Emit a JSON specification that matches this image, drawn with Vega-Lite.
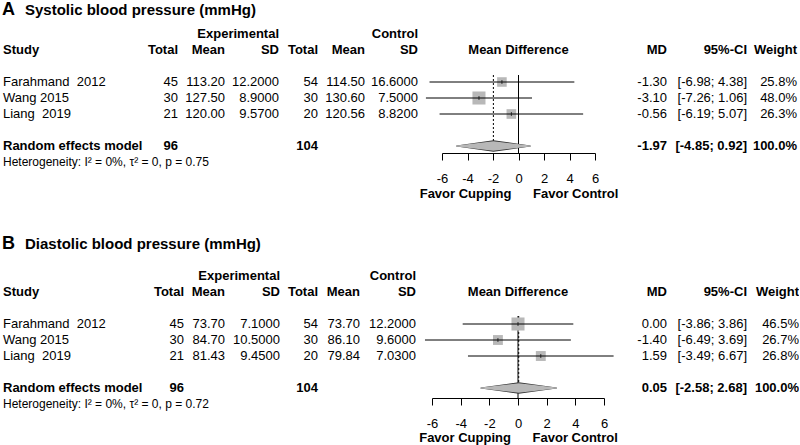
{
"$schema": "https://vega.github.io/schema/vega-lite/v6.json",
"padding": 0,
"spacing": 0,
"config": {"view": {"stroke": null}, "text": {"font": "Liberation Sans", "fontSize": 13, "color": "black"}, "concat": {"spacing": 0}},
"datasets": {
"A": [
{"line": "s1", "study": "Farahmand \u00a02012", "et": 45, "em": 113.2, "esd": 12.2, "ct": 54, "cm": 114.5, "csd": 16.6, "md": -1.30, "lo": -6.98, "hi": 4.38, "w": 25.8},
{"line": "s2", "study": "Wang 2015", "et": 30, "em": 127.5, "esd": 8.9, "ct": 30, "cm": 130.6, "csd": 7.5, "md": -3.10, "lo": -7.26, "hi": 1.06, "w": 48.0},
{"line": "s3", "study": "Liang \u00a02019", "et": 21, "em": 120.0, "esd": 9.57, "ct": 20, "cm": 120.56, "csd": 8.82, "md": -0.56, "lo": -6.19, "hi": 5.07, "w": 26.3},
{"line": "random", "study": "Random effects model", "et": 96, "ct": 104, "md": -1.97, "lo": -4.85, "hi": 0.92, "w": 100.0}
],
"B": [
{"line": "s1", "study": "Farahmand \u00a02012", "et": 45, "em": 73.7, "esd": 7.1, "ct": 54, "cm": 73.7, "csd": 12.2, "md": 0.00, "lo": -3.86, "hi": 3.86, "w": 46.5},
{"line": "s2", "study": "Wang 2015", "et": 30, "em": 84.7, "esd": 10.5, "ct": 30, "cm": 86.1, "csd": 9.6, "md": -1.40, "lo": -6.49, "hi": 3.69, "w": 26.7},
{"line": "s3", "study": "Liang \u00a02019", "et": 21, "em": 81.43, "esd": 9.45, "ct": 20, "cm": 79.84, "csd": 7.03, "md": 1.59, "lo": -3.49, "hi": 6.67, "w": 26.8},
{"line": "random", "study": "Random effects model", "et": 96, "ct": 104, "md": 0.05, "lo": -2.58, "hi": 2.68, "w": 100.0}
]
},
"vconcat": [
{"spacing": 0, "bounds": "flush", "hconcat": [
 {"width": 3, "height": 222, "data": {"name": "A"},
  "encoding": {"x": {"value": "width"}, "y": {"field": "line", "type": "nominal", "axis": null, "scale": {"type": "point", "domain": ["title","t","h1","h2","g1","s1","s2","s3","g2","random","het"], "range": [2,162], "padding": 0}}},
  "layer": [
   {"data": {"values": [{}]}, "mark": {"type": "text", "align": "left", "fontWeight": "bold", "fontSize": 18, "dy": 8, "dx": -1}, "encoding": {"y": {"datum": "title", "type": "nominal", "axis": null, "scale": {"type": "point", "domain": ["title","t","h1","h2","g1","s1","s2","s3","g2","random","het"], "range": [2,162], "padding": 0}}, "text": {"value": "A"}}},
   {"data": {"values": [{}]}, "mark": {"type": "text", "align": "left", "fontWeight": "bold", "fontSize": 15, "dy": 8, "dx": 22}, "encoding": {"y": {"datum": "title", "type": "nominal", "axis": null, "scale": {"type": "point", "domain": ["title","t","h1","h2","g1","s1","s2","s3","g2","random","het"], "range": [2,162], "padding": 0}}, "text": {"value": "Systolic blood pressure (mmHg)"}}},
   {"data": {"values": [{}]}, "mark": {"type": "text", "align": "left", "fontWeight": "bold"}, "encoding": {"y": {"datum": "h2", "type": "nominal", "axis": null, "scale": {"type": "point", "domain": ["title","t","h1","h2","g1","s1","s2","s3","g2","random","het"], "range": [2,162], "padding": 0}}, "text": {"value": "Study"}}},
   {"transform": [{"filter": "datum.line != 'random'"}], "mark": {"type": "text", "align": "left"}, "encoding": {"text": {"field": "study", "type": "nominal"}}},
   {"transform": [{"filter": "datum.line == 'random'"}], "mark": {"type": "text", "align": "left", "fontWeight": "bold"}, "encoding": {"text": {"field": "study", "type": "nominal"}}},
   {"data": {"values": [{}]}, "mark": {"type": "text", "align": "left", "fontSize": 12}, "encoding": {"y": {"datum": "het", "type": "nominal", "axis": null, "scale": {"type": "point", "domain": ["title","t","h1","h2","g1","s1","s2","s3","g2","random","het"], "range": [2,162], "padding": 0}}, "text": {"value": "Heterogeneity: I² = 0%, τ² = 0, p = 0.75"}}}
  ]},
 {"width": 175, "height": 222, "data": {"name": "A"},
  "encoding": {"x": {"value": "width"}, "y": {"field": "line", "type": "nominal", "axis": null, "scale": {"type": "point", "domain": ["title","t","h1","h2","g1","s1","s2","s3","g2","random","het"], "range": [2,162], "padding": 0}}},
  "layer": [
   {"data": {"values": [{}]}, "mark": {"type": "text", "align": "right", "fontWeight": "bold"}, "encoding": {"y": {"datum": "h2", "type": "nominal", "axis": null, "scale": {"type": "point", "domain": ["title","t","h1","h2","g1","s1","s2","s3","g2","random","het"], "range": [2,162], "padding": 0}}, "text": {"value": "Total"}}},
   {"transform": [{"filter": "datum.line != 'random'"}], "mark": {"type": "text", "align": "right"}, "encoding": {"text": {"field": "et", "type": "quantitative"}}},
   {"transform": [{"filter": "datum.line == 'random'"}], "mark": {"type": "text", "align": "right", "fontWeight": "bold"}, "encoding": {"text": {"field": "et", "type": "quantitative"}}}
  ]},
 {"width": 47, "height": 222, "data": {"name": "A"},
  "encoding": {"x": {"value": "width"}, "y": {"field": "line", "type": "nominal", "axis": null, "scale": {"type": "point", "domain": ["title","t","h1","h2","g1","s1","s2","s3","g2","random","het"], "range": [2,162], "padding": 0}}},
  "layer": [
   {"data": {"values": [{}]}, "mark": {"type": "text", "align": "right", "fontWeight": "bold"}, "encoding": {"y": {"datum": "h2", "type": "nominal", "axis": null, "scale": {"type": "point", "domain": ["title","t","h1","h2","g1","s1","s2","s3","g2","random","het"], "range": [2,162], "padding": 0}}, "text": {"value": "Mean"}}},
   {"transform": [{"filter": "datum.line != 'random'"}], "mark": {"type": "text", "align": "right"}, "encoding": {"text": {"field": "em", "type": "quantitative", "format": ".2f"}}}
  ]},
 {"width": 54, "height": 222, "data": {"name": "A"},
  "encoding": {"x": {"value": "width"}, "y": {"field": "line", "type": "nominal", "axis": null, "scale": {"type": "point", "domain": ["title","t","h1","h2","g1","s1","s2","s3","g2","random","het"], "range": [2,162], "padding": 0}}},
  "layer": [
   {"data": {"values": [{}]}, "mark": {"type": "text", "align": "right", "fontWeight": "bold"}, "encoding": {"y": {"datum": "h1", "type": "nominal", "axis": null, "scale": {"type": "point", "domain": ["title","t","h1","h2","g1","s1","s2","s3","g2","random","het"], "range": [2,162], "padding": 0}}, "text": {"value": "Experimental"}}},
   {"data": {"values": [{}]}, "mark": {"type": "text", "align": "right", "fontWeight": "bold"}, "encoding": {"y": {"datum": "h2", "type": "nominal", "axis": null, "scale": {"type": "point", "domain": ["title","t","h1","h2","g1","s1","s2","s3","g2","random","het"], "range": [2,162], "padding": 0}}, "text": {"value": "SD"}}},
   {"transform": [{"filter": "datum.line != 'random'"}], "mark": {"type": "text", "align": "right"}, "encoding": {"text": {"field": "esd", "type": "quantitative", "format": ".4f"}}}
  ]},
 {"width": 39, "height": 222, "data": {"name": "A"},
  "encoding": {"x": {"value": "width"}, "y": {"field": "line", "type": "nominal", "axis": null, "scale": {"type": "point", "domain": ["title","t","h1","h2","g1","s1","s2","s3","g2","random","het"], "range": [2,162], "padding": 0}}},
  "layer": [
   {"data": {"values": [{}]}, "mark": {"type": "text", "align": "right", "fontWeight": "bold"}, "encoding": {"y": {"datum": "h2", "type": "nominal", "axis": null, "scale": {"type": "point", "domain": ["title","t","h1","h2","g1","s1","s2","s3","g2","random","het"], "range": [2,162], "padding": 0}}, "text": {"value": "Total"}}},
   {"transform": [{"filter": "datum.line != 'random'"}], "mark": {"type": "text", "align": "right"}, "encoding": {"text": {"field": "ct", "type": "quantitative"}}},
   {"transform": [{"filter": "datum.line == 'random'"}], "mark": {"type": "text", "align": "right", "fontWeight": "bold"}, "encoding": {"text": {"field": "ct", "type": "quantitative"}}}
  ]},
 {"width": 47, "height": 222, "data": {"name": "A"},
  "encoding": {"x": {"value": "width"}, "y": {"field": "line", "type": "nominal", "axis": null, "scale": {"type": "point", "domain": ["title","t","h1","h2","g1","s1","s2","s3","g2","random","het"], "range": [2,162], "padding": 0}}},
  "layer": [
   {"data": {"values": [{}]}, "mark": {"type": "text", "align": "right", "fontWeight": "bold"}, "encoding": {"y": {"datum": "h2", "type": "nominal", "axis": null, "scale": {"type": "point", "domain": ["title","t","h1","h2","g1","s1","s2","s3","g2","random","het"], "range": [2,162], "padding": 0}}, "text": {"value": "Mean"}}},
   {"transform": [{"filter": "datum.line != 'random'"}], "mark": {"type": "text", "align": "right"}, "encoding": {"text": {"field": "cm", "type": "quantitative", "format": ".2f"}}}
  ]},
 {"width": 53, "height": 222, "data": {"name": "A"},
  "encoding": {"x": {"value": "width"}, "y": {"field": "line", "type": "nominal", "axis": null, "scale": {"type": "point", "domain": ["title","t","h1","h2","g1","s1","s2","s3","g2","random","het"], "range": [2,162], "padding": 0}}},
  "layer": [
   {"data": {"values": [{}]}, "mark": {"type": "text", "align": "right", "fontWeight": "bold"}, "encoding": {"y": {"datum": "h1", "type": "nominal", "axis": null, "scale": {"type": "point", "domain": ["title","t","h1","h2","g1","s1","s2","s3","g2","random","het"], "range": [2,162], "padding": 0}}, "text": {"value": "Control"}}},
   {"data": {"values": [{}]}, "mark": {"type": "text", "align": "right", "fontWeight": "bold"}, "encoding": {"y": {"datum": "h2", "type": "nominal", "axis": null, "scale": {"type": "point", "domain": ["title","t","h1","h2","g1","s1","s2","s3","g2","random","het"], "range": [2,162], "padding": 0}}, "text": {"value": "SD"}}},
   {"transform": [{"filter": "datum.line != 'random'"}], "mark": {"type": "text", "align": "right"}, "encoding": {"text": {"field": "csd", "type": "quantitative", "format": ".4f"}}}
  ]},
 {"width": 202, "height": 153, "data": {"name": "A"},
  "resolve": {"scale": {"size": "independent"}},
  "encoding": {"y": {"field": "line", "type": "nominal", "axis": null, "scale": {"type": "point", "domain": ["title","t","h1","h2","g1","s1","s2","s3","g2","random","het"], "range": [2,162], "padding": 0}}},
  "layer": [
   {"data": {"values": [{}]}, "mark": {"type": "text", "align": "center", "fontWeight": "bold"},
    "encoding": {"x": {"datum": 0, "type": "quantitative", "scale": {"domain": [-6,6], "range": [24,177], "nice": false, "zero": false}, "axis": {"values": [-6,-4,-2,0,2,4,6], "grid": false, "tickSize": 7, "tickColor": "black", "domainColor": "black", "labelColor": "black", "labelFont": "Liberation Sans", "labelFontSize": 13, "labelPadding": 12, "labelExpr": "datum.value + ''", "labelFlush": false, "labelOverlap": false, "title": "Favor Cupping\u00a0\u00a0\u00a0\u00a0\u00a0\u00a0Favor Control", "titleFont": "Liberation Sans", "titleFontSize": 13, "titleFontWeight": "bold", "titleColor": "black", "titlePadding": 2}},
     "y": {"datum": "h2", "type": "nominal", "axis": null, "scale": {"type": "point", "domain": ["title","t","h1","h2","g1","s1","s2","s3","g2","random","het"], "range": [2,162], "padding": 0}}, "text": {"value": "Mean Difference"}}},
   {"data": {"values": [{}]}, "mark": {"type": "rule", "color": "black", "strokeWidth": 1, "yOffset": -7, "y2Offset": 7},
    "encoding": {"x": {"datum": 0, "type": "quantitative", "scale": {"domain": [-6,6], "range": [24,177], "nice": false, "zero": false}, "axis": {"values": [-6,-4,-2,0,2,4,6], "grid": false, "tickSize": 7, "tickColor": "black", "domainColor": "black", "labelColor": "black", "labelFont": "Liberation Sans", "labelFontSize": 13, "labelPadding": 12, "labelExpr": "datum.value + ''", "labelFlush": false, "labelOverlap": false, "title": "Favor Cupping\u00a0\u00a0\u00a0\u00a0\u00a0\u00a0Favor Control", "titleFont": "Liberation Sans", "titleFontSize": 13, "titleFontWeight": "bold", "titleColor": "black", "titlePadding": 2}},
     "y": {"datum": "s1", "type": "nominal", "axis": null, "scale": {"type": "point", "domain": ["title","t","h1","h2","g1","s1","s2","s3","g2","random","het"], "range": [2,162], "padding": 0}}, "y2": {"datum": "random"}}},
   {"transform": [{"filter": "datum.line == 'random'"}], "mark": {"type": "rule", "color": "black", "strokeWidth": 1, "strokeDash": [2,2], "yOffset": -7, "y2Offset": -4},
    "encoding": {"x": {"field": "md", "type": "quantitative", "scale": {"domain": [-6,6], "range": [24,177], "nice": false, "zero": false}, "axis": {"values": [-6,-4,-2,0,2,4,6], "grid": false, "tickSize": 7, "tickColor": "black", "domainColor": "black", "labelColor": "black", "labelFont": "Liberation Sans", "labelFontSize": 13, "labelPadding": 12, "labelExpr": "datum.value + ''", "labelFlush": false, "labelOverlap": false, "title": "Favor Cupping\u00a0\u00a0\u00a0\u00a0\u00a0\u00a0Favor Control", "titleFont": "Liberation Sans", "titleFontSize": 13, "titleFontWeight": "bold", "titleColor": "black", "titlePadding": 2}},
     "y": {"datum": "s1", "type": "nominal", "axis": null, "scale": {"type": "point", "domain": ["title","t","h1","h2","g1","s1","s2","s3","g2","random","het"], "range": [2,162], "padding": 0}}, "y2": {"datum": "random"}}},
   {"transform": [{"filter": "datum.line != 'random'"}], "mark": {"type": "square", "color": "#b8b8b8", "filled": true, "opacity": 1},
    "encoding": {"x": {"field": "md", "type": "quantitative", "scale": {"domain": [-6,6], "range": [24,177], "nice": false, "zero": false}, "axis": {"values": [-6,-4,-2,0,2,4,6], "grid": false, "tickSize": 7, "tickColor": "black", "domainColor": "black", "labelColor": "black", "labelFont": "Liberation Sans", "labelFontSize": 13, "labelPadding": 12, "labelExpr": "datum.value + ''", "labelFlush": false, "labelOverlap": false, "title": "Favor Cupping\u00a0\u00a0\u00a0\u00a0\u00a0\u00a0Favor Control", "titleFont": "Liberation Sans", "titleFontSize": 13, "titleFontWeight": "bold", "titleColor": "black", "titlePadding": 2}},
     "size": {"field": "w", "type": "quantitative", "legend": null, "scale": {"range": [0,170], "nice": false, "zero": true}}}},
   {"transform": [{"filter": "datum.line != 'random'"}], "mark": {"type": "rule", "color": "black", "strokeWidth": 1},
    "encoding": {"x": {"field": "lo", "type": "quantitative", "scale": {"domain": [-6,6], "range": [24,177], "nice": false, "zero": false}, "axis": {"values": [-6,-4,-2,0,2,4,6], "grid": false, "tickSize": 7, "tickColor": "black", "domainColor": "black", "labelColor": "black", "labelFont": "Liberation Sans", "labelFontSize": 13, "labelPadding": 12, "labelExpr": "datum.value + ''", "labelFlush": false, "labelOverlap": false, "title": "Favor Cupping\u00a0\u00a0\u00a0\u00a0\u00a0\u00a0Favor Control", "titleFont": "Liberation Sans", "titleFontSize": 13, "titleFontWeight": "bold", "titleColor": "black", "titlePadding": 2}}, "x2": {"field": "hi"}}},
   {"transform": [{"filter": "datum.line != 'random'"}], "mark": {"type": "tick", "color": "black", "orient": "vertical", "size": 4, "thickness": 1},
    "encoding": {"x": {"field": "md", "type": "quantitative", "scale": {"domain": [-6,6], "range": [24,177], "nice": false, "zero": false}, "axis": {"values": [-6,-4,-2,0,2,4,6], "grid": false, "tickSize": 7, "tickColor": "black", "domainColor": "black", "labelColor": "black", "labelFont": "Liberation Sans", "labelFontSize": 13, "labelPadding": 12, "labelExpr": "datum.value + ''", "labelFlush": false, "labelOverlap": false, "title": "Favor Cupping\u00a0\u00a0\u00a0\u00a0\u00a0\u00a0Favor Control", "titleFont": "Liberation Sans", "titleFontSize": 13, "titleFontWeight": "bold", "titleColor": "black", "titlePadding": 2}}}},
   {"transform": [{"filter": "datum.line == 'random'"}, {"fold": ["lo","md","hi"], "as": ["key","val"]}, {"calculate": "datum.key == 'md' ? 1 : 0", "as": "mid"}], "mark": {"type": "trail", "color": "#333333"},
    "encoding": {"x": {"field": "val", "type": "quantitative", "scale": {"domain": [-6,6], "range": [24,177], "nice": false, "zero": false}, "axis": {"values": [-6,-4,-2,0,2,4,6], "grid": false, "tickSize": 7, "tickColor": "black", "domainColor": "black", "labelColor": "black", "labelFont": "Liberation Sans", "labelFontSize": 13, "labelPadding": 12, "labelExpr": "datum.value + ''", "labelFlush": false, "labelOverlap": false, "title": "Favor Cupping\u00a0\u00a0\u00a0\u00a0\u00a0\u00a0Favor Control", "titleFont": "Liberation Sans", "titleFontSize": 13, "titleFontWeight": "bold", "titleColor": "black", "titlePadding": 2}},
     "size": {"field": "mid", "type": "quantitative", "legend": null, "scale": {"domain": [0,1], "range": [1.2,11.5], "zero": false, "nice": false}}}},
   {"transform": [{"filter": "datum.line == 'random'"}, {"fold": ["lo","md","hi"], "as": ["key","val"]}, {"calculate": "datum.key == 'md' ? 1 : 0", "as": "mid"}], "mark": {"type": "trail", "color": "#b8b8b8"},
    "encoding": {"x": {"field": "val", "type": "quantitative", "scale": {"domain": [-6,6], "range": [24,177], "nice": false, "zero": false}, "axis": {"values": [-6,-4,-2,0,2,4,6], "grid": false, "tickSize": 7, "tickColor": "black", "domainColor": "black", "labelColor": "black", "labelFont": "Liberation Sans", "labelFontSize": 13, "labelPadding": 12, "labelExpr": "datum.value + ''", "labelFlush": false, "labelOverlap": false, "title": "Favor Cupping\u00a0\u00a0\u00a0\u00a0\u00a0\u00a0Favor Control", "titleFont": "Liberation Sans", "titleFontSize": 13, "titleFontWeight": "bold", "titleColor": "black", "titlePadding": 2}},
     "size": {"field": "mid", "type": "quantitative", "legend": null, "scale": {"domain": [0,1], "range": [0,9.5], "zero": false, "nice": false}}}}
  ]},
 {"width": 47, "height": 222, "data": {"name": "A"},
  "transform": [{"calculate": "replace(format(datum.md, '.2f'), '−', '-')", "as": "mdt"}],
  "encoding": {"x": {"value": "width"}, "y": {"field": "line", "type": "nominal", "axis": null, "scale": {"type": "point", "domain": ["title","t","h1","h2","g1","s1","s2","s3","g2","random","het"], "range": [2,162], "padding": 0}}},
  "layer": [
   {"data": {"values": [{}]}, "mark": {"type": "text", "align": "right", "fontWeight": "bold"}, "encoding": {"y": {"datum": "h2", "type": "nominal", "axis": null, "scale": {"type": "point", "domain": ["title","t","h1","h2","g1","s1","s2","s3","g2","random","het"], "range": [2,162], "padding": 0}}, "text": {"value": "MD"}}},
   {"transform": [{"filter": "datum.line != 'random'"}], "mark": {"type": "text", "align": "right"}, "encoding": {"text": {"field": "mdt", "type": "nominal"}}},
   {"transform": [{"filter": "datum.line == 'random'"}], "mark": {"type": "text", "align": "right", "fontWeight": "bold"}, "encoding": {"text": {"field": "mdt", "type": "nominal"}}}
  ]},
 {"width": 80, "height": 222, "data": {"name": "A"},
  "transform": [{"calculate": "'[' + replace(format(datum.lo, '.2f'), '−', '-') + '; ' + replace(format(datum.hi, '.2f'), '−', '-') + ']'", "as": "ci"}],
  "encoding": {"x": {"value": "width"}, "y": {"field": "line", "type": "nominal", "axis": null, "scale": {"type": "point", "domain": ["title","t","h1","h2","g1","s1","s2","s3","g2","random","het"], "range": [2,162], "padding": 0}}},
  "layer": [
   {"data": {"values": [{}]}, "mark": {"type": "text", "align": "right", "fontWeight": "bold"}, "encoding": {"y": {"datum": "h2", "type": "nominal", "axis": null, "scale": {"type": "point", "domain": ["title","t","h1","h2","g1","s1","s2","s3","g2","random","het"], "range": [2,162], "padding": 0}}, "text": {"value": "95%-CI"}}},
   {"transform": [{"filter": "datum.line != 'random'"}], "mark": {"type": "text", "align": "right"}, "encoding": {"text": {"field": "ci", "type": "nominal"}}},
   {"transform": [{"filter": "datum.line == 'random'"}], "mark": {"type": "text", "align": "right", "fontWeight": "bold"}, "encoding": {"text": {"field": "ci", "type": "nominal"}}}
  ]},
 {"width": 50, "height": 222, "data": {"name": "A"},
  "transform": [{"calculate": "format(datum.w, '.1f') + '%'", "as": "wt"}],
  "encoding": {"x": {"value": "width"}, "y": {"field": "line", "type": "nominal", "axis": null, "scale": {"type": "point", "domain": ["title","t","h1","h2","g1","s1","s2","s3","g2","random","het"], "range": [2,162], "padding": 0}}},
  "layer": [
   {"data": {"values": [{}]}, "mark": {"type": "text", "align": "right", "fontWeight": "bold"}, "encoding": {"y": {"datum": "h2", "type": "nominal", "axis": null, "scale": {"type": "point", "domain": ["title","t","h1","h2","g1","s1","s2","s3","g2","random","het"], "range": [2,162], "padding": 0}}, "text": {"value": "Weight"}}},
   {"transform": [{"filter": "datum.line != 'random'"}], "mark": {"type": "text", "align": "right"}, "encoding": {"text": {"field": "wt", "type": "nominal"}}},
   {"transform": [{"filter": "datum.line == 'random'"}], "mark": {"type": "text", "align": "right", "fontWeight": "bold"}, "encoding": {"text": {"field": "wt", "type": "nominal"}}}
  ]}
]},
{"spacing": 0, "bounds": "flush", "hconcat": [
 {"width": 3, "height": 223, "data": {"name": "B"},
  "encoding": {"x": {"value": "width"}, "y": {"field": "line", "type": "nominal", "axis": null, "scale": {"type": "point", "domain": ["title","t","h1","h2","g1","s1","s2","s3","g2","random","het"], "range": [22,182], "padding": 0}}},
  "layer": [
   {"data": {"values": [{}]}, "mark": {"type": "text", "align": "left", "fontWeight": "bold", "fontSize": 18, "dy": 0, "dx": -1}, "encoding": {"y": {"datum": "title", "type": "nominal", "axis": null, "scale": {"type": "point", "domain": ["title","t","h1","h2","g1","s1","s2","s3","g2","random","het"], "range": [22,182], "padding": 0}}, "text": {"value": "B"}}},
   {"data": {"values": [{}]}, "mark": {"type": "text", "align": "left", "fontWeight": "bold", "fontSize": 15, "dy": 0, "dx": 22}, "encoding": {"y": {"datum": "title", "type": "nominal", "axis": null, "scale": {"type": "point", "domain": ["title","t","h1","h2","g1","s1","s2","s3","g2","random","het"], "range": [22,182], "padding": 0}}, "text": {"value": "Diastolic blood pressure (mmHg)"}}},
   {"data": {"values": [{}]}, "mark": {"type": "text", "align": "left", "fontWeight": "bold"}, "encoding": {"y": {"datum": "h2", "type": "nominal", "axis": null, "scale": {"type": "point", "domain": ["title","t","h1","h2","g1","s1","s2","s3","g2","random","het"], "range": [22,182], "padding": 0}}, "text": {"value": "Study"}}},
   {"transform": [{"filter": "datum.line != 'random'"}], "mark": {"type": "text", "align": "left"}, "encoding": {"text": {"field": "study", "type": "nominal"}}},
   {"transform": [{"filter": "datum.line == 'random'"}], "mark": {"type": "text", "align": "left", "fontWeight": "bold"}, "encoding": {"text": {"field": "study", "type": "nominal"}}},
   {"data": {"values": [{}]}, "mark": {"type": "text", "align": "left", "fontSize": 12}, "encoding": {"y": {"datum": "het", "type": "nominal", "axis": null, "scale": {"type": "point", "domain": ["title","t","h1","h2","g1","s1","s2","s3","g2","random","het"], "range": [22,182], "padding": 0}}, "text": {"value": "Heterogeneity: I² = 0%, τ² = 0, p = 0.72"}}}
  ]},
 {"width": 181, "height": 223, "data": {"name": "B"},
  "encoding": {"x": {"value": "width"}, "y": {"field": "line", "type": "nominal", "axis": null, "scale": {"type": "point", "domain": ["title","t","h1","h2","g1","s1","s2","s3","g2","random","het"], "range": [22,182], "padding": 0}}},
  "layer": [
   {"data": {"values": [{}]}, "mark": {"type": "text", "align": "right", "fontWeight": "bold"}, "encoding": {"y": {"datum": "h2", "type": "nominal", "axis": null, "scale": {"type": "point", "domain": ["title","t","h1","h2","g1","s1","s2","s3","g2","random","het"], "range": [22,182], "padding": 0}}, "text": {"value": "Total"}}},
   {"transform": [{"filter": "datum.line != 'random'"}], "mark": {"type": "text", "align": "right"}, "encoding": {"text": {"field": "et", "type": "quantitative"}}},
   {"transform": [{"filter": "datum.line == 'random'"}], "mark": {"type": "text", "align": "right", "fontWeight": "bold"}, "encoding": {"text": {"field": "et", "type": "quantitative"}}}
  ]},
 {"width": 41, "height": 223, "data": {"name": "B"},
  "encoding": {"x": {"value": "width"}, "y": {"field": "line", "type": "nominal", "axis": null, "scale": {"type": "point", "domain": ["title","t","h1","h2","g1","s1","s2","s3","g2","random","het"], "range": [22,182], "padding": 0}}},
  "layer": [
   {"data": {"values": [{}]}, "mark": {"type": "text", "align": "right", "fontWeight": "bold"}, "encoding": {"y": {"datum": "h2", "type": "nominal", "axis": null, "scale": {"type": "point", "domain": ["title","t","h1","h2","g1","s1","s2","s3","g2","random","het"], "range": [22,182], "padding": 0}}, "text": {"value": "Mean"}}},
   {"transform": [{"filter": "datum.line != 'random'"}], "mark": {"type": "text", "align": "right"}, "encoding": {"text": {"field": "em", "type": "quantitative", "format": ".2f"}}}
  ]},
 {"width": 55, "height": 223, "data": {"name": "B"},
  "encoding": {"x": {"value": "width"}, "y": {"field": "line", "type": "nominal", "axis": null, "scale": {"type": "point", "domain": ["title","t","h1","h2","g1","s1","s2","s3","g2","random","het"], "range": [22,182], "padding": 0}}},
  "layer": [
   {"data": {"values": [{}]}, "mark": {"type": "text", "align": "right", "fontWeight": "bold"}, "encoding": {"y": {"datum": "h1", "type": "nominal", "axis": null, "scale": {"type": "point", "domain": ["title","t","h1","h2","g1","s1","s2","s3","g2","random","het"], "range": [22,182], "padding": 0}}, "text": {"value": "Experimental"}}},
   {"data": {"values": [{}]}, "mark": {"type": "text", "align": "right", "fontWeight": "bold"}, "encoding": {"y": {"datum": "h2", "type": "nominal", "axis": null, "scale": {"type": "point", "domain": ["title","t","h1","h2","g1","s1","s2","s3","g2","random","het"], "range": [22,182], "padding": 0}}, "text": {"value": "SD"}}},
   {"transform": [{"filter": "datum.line != 'random'"}], "mark": {"type": "text", "align": "right"}, "encoding": {"text": {"field": "esd", "type": "quantitative", "format": ".4f"}}}
  ]},
 {"width": 38, "height": 223, "data": {"name": "B"},
  "encoding": {"x": {"value": "width"}, "y": {"field": "line", "type": "nominal", "axis": null, "scale": {"type": "point", "domain": ["title","t","h1","h2","g1","s1","s2","s3","g2","random","het"], "range": [22,182], "padding": 0}}},
  "layer": [
   {"data": {"values": [{}]}, "mark": {"type": "text", "align": "right", "fontWeight": "bold"}, "encoding": {"y": {"datum": "h2", "type": "nominal", "axis": null, "scale": {"type": "point", "domain": ["title","t","h1","h2","g1","s1","s2","s3","g2","random","het"], "range": [22,182], "padding": 0}}, "text": {"value": "Total"}}},
   {"transform": [{"filter": "datum.line != 'random'"}], "mark": {"type": "text", "align": "right"}, "encoding": {"text": {"field": "ct", "type": "quantitative"}}},
   {"transform": [{"filter": "datum.line == 'random'"}], "mark": {"type": "text", "align": "right", "fontWeight": "bold"}, "encoding": {"text": {"field": "ct", "type": "quantitative"}}}
  ]},
 {"width": 42, "height": 223, "data": {"name": "B"},
  "encoding": {"x": {"value": "width"}, "y": {"field": "line", "type": "nominal", "axis": null, "scale": {"type": "point", "domain": ["title","t","h1","h2","g1","s1","s2","s3","g2","random","het"], "range": [22,182], "padding": 0}}},
  "layer": [
   {"data": {"values": [{}]}, "mark": {"type": "text", "align": "right", "fontWeight": "bold"}, "encoding": {"y": {"datum": "h2", "type": "nominal", "axis": null, "scale": {"type": "point", "domain": ["title","t","h1","h2","g1","s1","s2","s3","g2","random","het"], "range": [22,182], "padding": 0}}, "text": {"value": "Mean"}}},
   {"transform": [{"filter": "datum.line != 'random'"}], "mark": {"type": "text", "align": "right"}, "encoding": {"text": {"field": "cm", "type": "quantitative", "format": ".2f"}}}
  ]},
 {"width": 56, "height": 223, "data": {"name": "B"},
  "encoding": {"x": {"value": "width"}, "y": {"field": "line", "type": "nominal", "axis": null, "scale": {"type": "point", "domain": ["title","t","h1","h2","g1","s1","s2","s3","g2","random","het"], "range": [22,182], "padding": 0}}},
  "layer": [
   {"data": {"values": [{}]}, "mark": {"type": "text", "align": "right", "fontWeight": "bold"}, "encoding": {"y": {"datum": "h1", "type": "nominal", "axis": null, "scale": {"type": "point", "domain": ["title","t","h1","h2","g1","s1","s2","s3","g2","random","het"], "range": [22,182], "padding": 0}}, "text": {"value": "Control"}}},
   {"data": {"values": [{}]}, "mark": {"type": "text", "align": "right", "fontWeight": "bold"}, "encoding": {"y": {"datum": "h2", "type": "nominal", "axis": null, "scale": {"type": "point", "domain": ["title","t","h1","h2","g1","s1","s2","s3","g2","random","het"], "range": [22,182], "padding": 0}}, "text": {"value": "SD"}}},
   {"transform": [{"filter": "datum.line != 'random'"}], "mark": {"type": "text", "align": "right"}, "encoding": {"text": {"field": "csd", "type": "quantitative", "format": ".4f"}}}
  ]},
 {"width": 204, "height": 176, "data": {"name": "B"},
  "resolve": {"scale": {"size": "independent"}},
  "encoding": {"y": {"field": "line", "type": "nominal", "axis": null, "scale": {"type": "point", "domain": ["title","t","h1","h2","g1","s1","s2","s3","g2","random","het"], "range": [22,182], "padding": 0}}},
  "layer": [
   {"data": {"values": [{}]}, "mark": {"type": "text", "align": "center", "fontWeight": "bold"},
    "encoding": {"x": {"datum": 0, "type": "quantitative", "scale": {"domain": [-6,6], "range": [16,188], "nice": false, "zero": false}, "axis": {"values": [-6,-4,-2,0,2,4,6], "grid": false, "tickSize": 7, "tickColor": "black", "domainColor": "black", "labelColor": "black", "labelFont": "Liberation Sans", "labelFontSize": 13, "labelPadding": 12, "labelExpr": "datum.value + ''", "labelFlush": false, "labelOverlap": false, "title": "Favor Cupping\u00a0\u00a0\u00a0\u00a0\u00a0\u00a0Favor Control", "titleFont": "Liberation Sans", "titleFontSize": 13, "titleFontWeight": "bold", "titleColor": "black", "titlePadding": 1}},
     "y": {"datum": "h2", "type": "nominal", "axis": null, "scale": {"type": "point", "domain": ["title","t","h1","h2","g1","s1","s2","s3","g2","random","het"], "range": [22,182], "padding": 0}}, "text": {"value": "Mean Difference"}}},
   {"data": {"values": [{}]}, "mark": {"type": "rule", "color": "black", "strokeWidth": 1, "yOffset": -8, "y2Offset": 10},
    "encoding": {"x": {"datum": 0, "type": "quantitative", "scale": {"domain": [-6,6], "range": [16,188], "nice": false, "zero": false}, "axis": {"values": [-6,-4,-2,0,2,4,6], "grid": false, "tickSize": 7, "tickColor": "black", "domainColor": "black", "labelColor": "black", "labelFont": "Liberation Sans", "labelFontSize": 13, "labelPadding": 12, "labelExpr": "datum.value + ''", "labelFlush": false, "labelOverlap": false, "title": "Favor Cupping\u00a0\u00a0\u00a0\u00a0\u00a0\u00a0Favor Control", "titleFont": "Liberation Sans", "titleFontSize": 13, "titleFontWeight": "bold", "titleColor": "black", "titlePadding": 1}},
     "y": {"datum": "s1", "type": "nominal", "axis": null, "scale": {"type": "point", "domain": ["title","t","h1","h2","g1","s1","s2","s3","g2","random","het"], "range": [22,182], "padding": 0}}, "y2": {"datum": "random"}}},
   {"transform": [{"filter": "datum.line == 'random'"}], "mark": {"type": "rule", "color": "black", "strokeWidth": 1, "strokeDash": [2,2], "yOffset": -8, "y2Offset": -4},
    "encoding": {"x": {"field": "md", "type": "quantitative", "scale": {"domain": [-6,6], "range": [16,188], "nice": false, "zero": false}, "axis": {"values": [-6,-4,-2,0,2,4,6], "grid": false, "tickSize": 7, "tickColor": "black", "domainColor": "black", "labelColor": "black", "labelFont": "Liberation Sans", "labelFontSize": 13, "labelPadding": 12, "labelExpr": "datum.value + ''", "labelFlush": false, "labelOverlap": false, "title": "Favor Cupping\u00a0\u00a0\u00a0\u00a0\u00a0\u00a0Favor Control", "titleFont": "Liberation Sans", "titleFontSize": 13, "titleFontWeight": "bold", "titleColor": "black", "titlePadding": 1}},
     "y": {"datum": "s1", "type": "nominal", "axis": null, "scale": {"type": "point", "domain": ["title","t","h1","h2","g1","s1","s2","s3","g2","random","het"], "range": [22,182], "padding": 0}}, "y2": {"datum": "random"}}},
   {"transform": [{"filter": "datum.line != 'random'"}], "mark": {"type": "square", "color": "#b8b8b8", "filled": true, "opacity": 1},
    "encoding": {"x": {"field": "md", "type": "quantitative", "scale": {"domain": [-6,6], "range": [16,188], "nice": false, "zero": false}, "axis": {"values": [-6,-4,-2,0,2,4,6], "grid": false, "tickSize": 7, "tickColor": "black", "domainColor": "black", "labelColor": "black", "labelFont": "Liberation Sans", "labelFontSize": 13, "labelPadding": 12, "labelExpr": "datum.value + ''", "labelFlush": false, "labelOverlap": false, "title": "Favor Cupping\u00a0\u00a0\u00a0\u00a0\u00a0\u00a0Favor Control", "titleFont": "Liberation Sans", "titleFontSize": 13, "titleFontWeight": "bold", "titleColor": "black", "titlePadding": 1}},
     "size": {"field": "w", "type": "quantitative", "legend": null, "scale": {"range": [0,170], "nice": false, "zero": true}}}},
   {"transform": [{"filter": "datum.line != 'random'"}], "mark": {"type": "rule", "color": "black", "strokeWidth": 1},
    "encoding": {"x": {"field": "lo", "type": "quantitative", "scale": {"domain": [-6,6], "range": [16,188], "nice": false, "zero": false}, "axis": {"values": [-6,-4,-2,0,2,4,6], "grid": false, "tickSize": 7, "tickColor": "black", "domainColor": "black", "labelColor": "black", "labelFont": "Liberation Sans", "labelFontSize": 13, "labelPadding": 12, "labelExpr": "datum.value + ''", "labelFlush": false, "labelOverlap": false, "title": "Favor Cupping\u00a0\u00a0\u00a0\u00a0\u00a0\u00a0Favor Control", "titleFont": "Liberation Sans", "titleFontSize": 13, "titleFontWeight": "bold", "titleColor": "black", "titlePadding": 1}}, "x2": {"field": "hi"}}},
   {"transform": [{"filter": "datum.line != 'random'"}], "mark": {"type": "tick", "color": "black", "orient": "vertical", "size": 4, "thickness": 1},
    "encoding": {"x": {"field": "md", "type": "quantitative", "scale": {"domain": [-6,6], "range": [16,188], "nice": false, "zero": false}, "axis": {"values": [-6,-4,-2,0,2,4,6], "grid": false, "tickSize": 7, "tickColor": "black", "domainColor": "black", "labelColor": "black", "labelFont": "Liberation Sans", "labelFontSize": 13, "labelPadding": 12, "labelExpr": "datum.value + ''", "labelFlush": false, "labelOverlap": false, "title": "Favor Cupping\u00a0\u00a0\u00a0\u00a0\u00a0\u00a0Favor Control", "titleFont": "Liberation Sans", "titleFontSize": 13, "titleFontWeight": "bold", "titleColor": "black", "titlePadding": 1}}}},
   {"transform": [{"filter": "datum.line == 'random'"}, {"fold": ["lo","md","hi"], "as": ["key","val"]}, {"calculate": "datum.key == 'md' ? 1 : 0", "as": "mid"}], "mark": {"type": "trail", "color": "#333333"},
    "encoding": {"x": {"field": "val", "type": "quantitative", "scale": {"domain": [-6,6], "range": [16,188], "nice": false, "zero": false}, "axis": {"values": [-6,-4,-2,0,2,4,6], "grid": false, "tickSize": 7, "tickColor": "black", "domainColor": "black", "labelColor": "black", "labelFont": "Liberation Sans", "labelFontSize": 13, "labelPadding": 12, "labelExpr": "datum.value + ''", "labelFlush": false, "labelOverlap": false, "title": "Favor Cupping\u00a0\u00a0\u00a0\u00a0\u00a0\u00a0Favor Control", "titleFont": "Liberation Sans", "titleFontSize": 13, "titleFontWeight": "bold", "titleColor": "black", "titlePadding": 1}},
     "size": {"field": "mid", "type": "quantitative", "legend": null, "scale": {"domain": [0,1], "range": [1.2,11.5], "zero": false, "nice": false}}}},
   {"transform": [{"filter": "datum.line == 'random'"}, {"fold": ["lo","md","hi"], "as": ["key","val"]}, {"calculate": "datum.key == 'md' ? 1 : 0", "as": "mid"}], "mark": {"type": "trail", "color": "#b8b8b8"},
    "encoding": {"x": {"field": "val", "type": "quantitative", "scale": {"domain": [-6,6], "range": [16,188], "nice": false, "zero": false}, "axis": {"values": [-6,-4,-2,0,2,4,6], "grid": false, "tickSize": 7, "tickColor": "black", "domainColor": "black", "labelColor": "black", "labelFont": "Liberation Sans", "labelFontSize": 13, "labelPadding": 12, "labelExpr": "datum.value + ''", "labelFlush": false, "labelOverlap": false, "title": "Favor Cupping\u00a0\u00a0\u00a0\u00a0\u00a0\u00a0Favor Control", "titleFont": "Liberation Sans", "titleFontSize": 13, "titleFontWeight": "bold", "titleColor": "black", "titlePadding": 1}},
     "size": {"field": "mid", "type": "quantitative", "legend": null, "scale": {"domain": [0,1], "range": [0,9.5], "zero": false, "nice": false}}}}
  ]},
 {"width": 47, "height": 223, "data": {"name": "B"},
  "transform": [{"calculate": "replace(format(datum.md, '.2f'), '−', '-')", "as": "mdt"}],
  "encoding": {"x": {"value": "width"}, "y": {"field": "line", "type": "nominal", "axis": null, "scale": {"type": "point", "domain": ["title","t","h1","h2","g1","s1","s2","s3","g2","random","het"], "range": [22,182], "padding": 0}}},
  "layer": [
   {"data": {"values": [{}]}, "mark": {"type": "text", "align": "right", "fontWeight": "bold"}, "encoding": {"y": {"datum": "h2", "type": "nominal", "axis": null, "scale": {"type": "point", "domain": ["title","t","h1","h2","g1","s1","s2","s3","g2","random","het"], "range": [22,182], "padding": 0}}, "text": {"value": "MD"}}},
   {"transform": [{"filter": "datum.line != 'random'"}], "mark": {"type": "text", "align": "right"}, "encoding": {"text": {"field": "mdt", "type": "nominal"}}},
   {"transform": [{"filter": "datum.line == 'random'"}], "mark": {"type": "text", "align": "right", "fontWeight": "bold"}, "encoding": {"text": {"field": "mdt", "type": "nominal"}}}
  ]},
 {"width": 80, "height": 223, "data": {"name": "B"},
  "transform": [{"calculate": "'[' + replace(format(datum.lo, '.2f'), '−', '-') + '; ' + replace(format(datum.hi, '.2f'), '−', '-') + ']'", "as": "ci"}],
  "encoding": {"x": {"value": "width"}, "y": {"field": "line", "type": "nominal", "axis": null, "scale": {"type": "point", "domain": ["title","t","h1","h2","g1","s1","s2","s3","g2","random","het"], "range": [22,182], "padding": 0}}},
  "layer": [
   {"data": {"values": [{}]}, "mark": {"type": "text", "align": "right", "fontWeight": "bold"}, "encoding": {"y": {"datum": "h2", "type": "nominal", "axis": null, "scale": {"type": "point", "domain": ["title","t","h1","h2","g1","s1","s2","s3","g2","random","het"], "range": [22,182], "padding": 0}}, "text": {"value": "95%-CI"}}},
   {"transform": [{"filter": "datum.line != 'random'"}], "mark": {"type": "text", "align": "right"}, "encoding": {"text": {"field": "ci", "type": "nominal"}}},
   {"transform": [{"filter": "datum.line == 'random'"}], "mark": {"type": "text", "align": "right", "fontWeight": "bold"}, "encoding": {"text": {"field": "ci", "type": "nominal"}}}
  ]},
 {"width": 52, "height": 223, "data": {"name": "B"},
  "transform": [{"calculate": "format(datum.w, '.1f') + '%'", "as": "wt"}],
  "encoding": {"x": {"value": "width"}, "y": {"field": "line", "type": "nominal", "axis": null, "scale": {"type": "point", "domain": ["title","t","h1","h2","g1","s1","s2","s3","g2","random","het"], "range": [22,182], "padding": 0}}},
  "layer": [
   {"data": {"values": [{}]}, "mark": {"type": "text", "align": "right", "fontWeight": "bold"}, "encoding": {"y": {"datum": "h2", "type": "nominal", "axis": null, "scale": {"type": "point", "domain": ["title","t","h1","h2","g1","s1","s2","s3","g2","random","het"], "range": [22,182], "padding": 0}}, "text": {"value": "Weight"}}},
   {"transform": [{"filter": "datum.line != 'random'"}], "mark": {"type": "text", "align": "right"}, "encoding": {"text": {"field": "wt", "type": "nominal"}}},
   {"transform": [{"filter": "datum.line == 'random'"}], "mark": {"type": "text", "align": "right", "fontWeight": "bold"}, "encoding": {"text": {"field": "wt", "type": "nominal"}}}
  ]}
]}
]
}
